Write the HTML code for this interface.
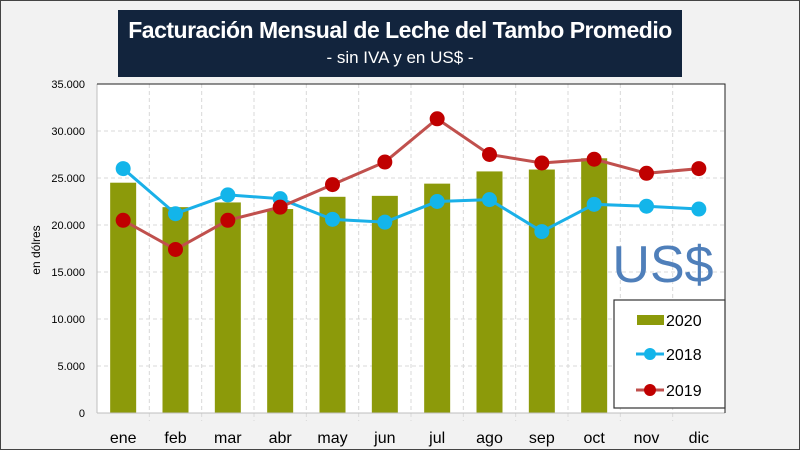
<!DOCTYPE html>
<html><head><meta charset="utf-8"><style>
html,body{margin:0;padding:0;}
body{width:800px;height:450px;overflow:hidden;background:#f2f2f2;font-family:"Liberation Sans",sans-serif;}
#frame{position:absolute;left:0;top:0;width:798px;height:448px;border:1px solid #444;}
#title{position:absolute;left:118px;top:10px;width:564px;height:67px;background:#12243d;color:#fff;text-align:center;}
#t1{font-size:23px;font-weight:bold;margin-top:7px;letter-spacing:-0.5px;}
#t2{font-size:17px;margin-top:4px;}
svg{position:absolute;left:0;top:0;}
</style></head><body>
<div id="frame"></div>
<div id="title">
<div id="t1">Facturación Mensual de Leche del Tambo Promedio</div>
<div id="t2">- sin IVA y en US$ -</div>
</div>
<svg id="chart" width="800" height="450"></svg>
<script>
const categories=["ene","feb","mar","abr","may","jun","jul","ago","sep","oct","nov","dic"];
const values2020=[24500,21900,22400,21700,23000,23100,24400,25700,25900,27100,null,null];
const values2018=[26000,21200,23200,22800,20600,20300,22500,22700,19300,22200,22000,21700];
const values2019=[20500,17400,20500,21900,24300,26700,31300,27500,26600,27000,25500,26000];
const yTicks=[0,5000,10000,15000,20000,25000,30000,35000];
const yTickLabels=["0","5.000","10.000","15.000","20.000","25.000","30.000","35.000"];
const NS="http://www.w3.org/2000/svg";
const svg=document.getElementById('chart');
const L=97,R=725,T=84,B=413;
const cw=(R-L)/categories.length;
const x=i=>L+cw*(i+0.5);
const y=v=>B-(v/35000)*(B-T);
function mk(tag,at,parent){const e=document.createElementNS(NS,tag);for(const k in at)e.setAttribute(k,at[k]);(parent||svg).appendChild(e);return e;}
const bg=mk('rect',{x:L,y:T,width:R-L,height:B-T,fill:'#fff'});


yTicks.forEach((t,i)=>{
 if(t>0){const g=mk('line',{x1:L,x2:R,y1:y(t),y2:y(t),stroke:'#d9d9d9','stroke-dasharray':'4,3'});
 
 }
 const tx=mk('text',{x:L-12,y:y(t)+4,'text-anchor':'end','font-size':'11',fill:'#000'});
 tx.textContent=yTickLabels[i];
 
 
});
categories.forEach((c,i)=>{
 if(i>0){const g=mk('line',{x1:L+cw*i,x2:L+cw*i,y1:T,y2:B+8,stroke:'#d9d9d9','stroke-dasharray':'4,3'});
 
 }
 const tx=mk('text',{x:x(i),y:443,'text-anchor':'middle','font-size':'16',fill:'#000'});
 tx.textContent=c;
 
 
});
const yt=mk('text',{transform:'translate(40,250) rotate(-90)','text-anchor':'middle','font-size':'12',fill:'#000'});
yt.textContent='en dólres';


values2020.forEach((v,i)=>{if(v==null)return;
 const b=mk('rect',{x:x(i)-13,y:y(v),width:26,height:B-y(v),fill:'#8c9a0a'});
 
 
});
const ax=mk('path',{d:`M${L},${B}H${R}M${L},${T}V${B}`,stroke:'#bfbfbf',fill:'none'});


const br=mk('path',{d:`M${L},${T}H${R}V${B}`,stroke:'#222',fill:'none'});


function series(vals,col,lcol,name){
 const l=mk('polyline',{points:vals.map((v,i)=>x(i)+','+y(v)).join(' '),fill:'none',stroke:lcol,'stroke-width':3});
 
 
 vals.forEach((v,i)=>{const c=mk('circle',{cx:x(i),cy:y(v),r:7.5,fill:col});
 
 });
}
series(values2018,'#13b5ea','#1ab0e8','2018');
series(values2019,'#c00000','#c0504d','2019');
const us=mk('text',{x:663,y:282,'text-anchor':'middle','font-size':'52',fill:'#4f7fba'});
us.textContent='US$';


const lg=mk('rect',{x:614,y:300,width:111,height:108,fill:'#fff',stroke:'#333','stroke-width':1.2});


const li=[['2020',320],['2018',354],['2019',390]];
li.forEach(([n,ly],k)=>{
 if(k==0){const r=mk('rect',{x:637,y:ly-5,width:27,height:10,fill:'#8c9a0a'});}
 else{const col=k==1?'#13b5ea':'#c00000',lc=k==1?'#1ab0e8':'#c0504d';
  mk('line',{x1:636,x2:664,y1:ly,y2:ly,stroke:lc,'stroke-width':3});
  const c=mk('circle',{cx:650,cy:ly,r:6,fill:col});}
 const t=mk('text',{x:666,y:ly+6,'font-size':'16',fill:'#000'});t.textContent=n;
 
 
});
</script>
</body></html>
